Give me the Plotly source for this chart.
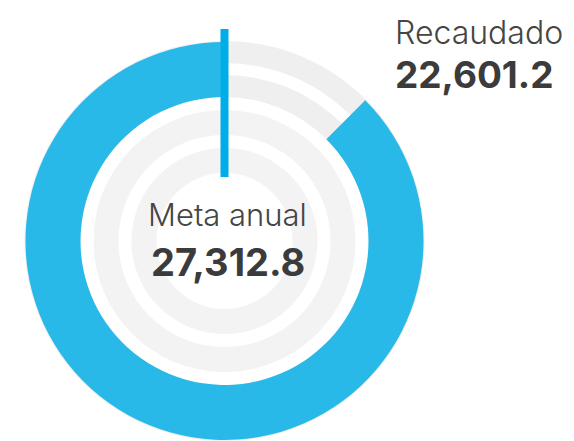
import plotly.graph_objects as go

# ---- data ----
labels = ["Recaudado", "Meta anual"]
recaudado = 22601.2
meta_anual = 27312.8
arc_scale_max = 25830.0          # full-circle value of the arc
arc_values = [arc_scale_max - recaudado, recaudado]

# ---- layout constants (pixels) ----
W, H = 574, 441
cx, cy = 224.5, 241.0            # ring centre (from top-left)
track_rings = [(200, 178, "#efefef"), (166, 144, "#efefef"),
               (131, 106, "#f3f3f3"), (93, 68, "#f3f3f3")]
blue_ring = (199, 144)
BLUE = "#29b9e9"
LINE_BLUE = "#00ade8"
TXT = "#454545"
NUM = "#3b3b3b"


def domain(r):
    return dict(x=[(cx - r) / W, (cx + r) / W],
                y=[max(0.0, 1 - (cy + r) / H), min(1.0, 1 - (cy - r) / H)])


fig = go.Figure()

for r_out, r_in, col in track_rings:
    fig.add_trace(go.Pie(values=[1], hole=r_in / r_out, domain=domain(r_out),
                         marker=dict(colors=[col], line=dict(width=0)),
                         textinfo="none", hoverinfo="skip", sort=False,
                         showlegend=False))

r_out, r_in = blue_ring
fig.add_trace(go.Pie(values=arc_values, labels=["Resto", "Recaudado"],
                     hole=r_in / r_out, domain=domain(r_out),
                     marker=dict(colors=["rgba(0,0,0,0)", BLUE], line=dict(width=0)),
                     direction="clockwise", rotation=0, sort=False,
                     textinfo="none", hoverinfo="label+value", showlegend=False))

# target marker at 12 o'clock
fig.add_shape(type="line", xref="paper", yref="paper",
              x0=cx / W, x1=cx / W, y0=1 - (cy - 212) / H, y1=1 - (cy - 64) / H,
              line=dict(color=LINE_BLUE, width=8))

def fmt(v):
    return f"{v:,.1f}"

anns = [
    dict(text=labels[1], x=227.5 / W, y=1 - 215 / H, xanchor="center",
         font=dict(family="Inter", size=31, color=TXT, weight=300)),
    dict(text=f"<b>{fmt(meta_anual)}</b>", x=227.5 / W, y=1 - 262 / H, xanchor="center",
         font=dict(family="Inter", size=38, color=NUM)),
    dict(text=labels[0], x=393 / W, y=1 - 32.5 / H, xanchor="left",
         font=dict(family="Inter", size=32, color=TXT, weight=300)),
    dict(text=f"<b>{fmt(recaudado)}</b>", x=393 / W, y=1 - 74 / H, xanchor="left",
         font=dict(family="Inter", size=37, color=NUM)),
]
for a in anns:
    fig.add_annotation(xref="paper", yref="paper", yanchor="middle",
                       showarrow=False, **a)

fig.update_layout(width=W, height=H, margin=dict(l=0, r=0, t=0, b=0),
                  paper_bgcolor="white", plot_bgcolor="white")

fig.write_html("out.html", config={"displayModeBar": False},
               post_script="document.body.style.margin='0';document.body.style.padding='0';")
